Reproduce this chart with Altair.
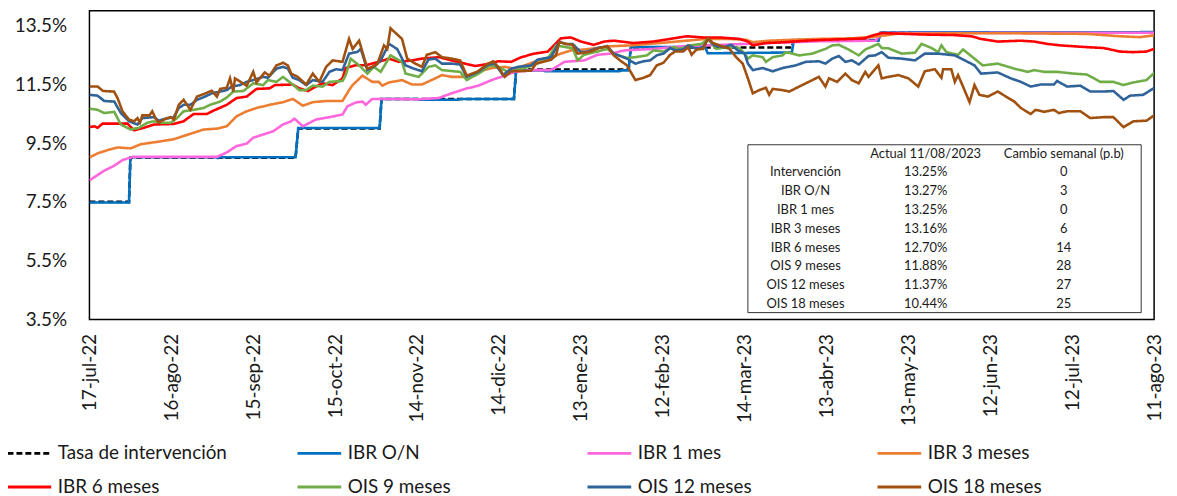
import altair as alt
import pandas as pd

START = pd.Timestamp("2022-07-17")
END_DATE = "2023-08-11"

series_names = ["Tasa de intervención", "IBR O/N", "IBR 1 mes", "IBR 3 meses",
                "IBR 6 meses", "OIS 9 meses", "OIS 12 meses", "OIS 18 meses"]
series_colors = ["#000000", "#0070C0", "#FF66DD", "#ED7D31",
                 "#FF0000", "#70AD47", "#2F6399", "#A0500F"]

# day offsets from 17-jul-22 and rates (%)
tasa_days = [0, 14.5, 15, 75.5, 76.5, 106.3, 107, 155.5, 156.3, 197.5, 198.3, 257.3, 258, 289, 289.8, 390]
tasa_vals = [7.5, 7.5, 9.0, 9.0, 10.0, 10.0, 11.0, 11.0, 12.0, 12.0, 12.75, 12.75, 13.0, 13.0, 13.25, 13.25]

on_days = [0, 14.5, 15, 46, 47, 48, 75.5, 76.5, 106.3, 107, 120, 121, 135, 136, 155.5, 156.3,
           166, 167, 194, 195, 197.5, 198.3, 225.5, 226.5, 257.3, 258, 289, 289.8, 390]
on_vals = [7.48, 7.48, 9.02, 9.02, 8.99, 9.02, 9.02, 10.01, 10.01, 11.0, 11.0, 10.97, 10.97, 11.0, 11.0, 11.97,
           11.97, 11.94, 11.94, 11.97, 11.97, 12.76, 12.76, 12.55, 12.58, 12.98, 12.98, 13.26, 13.27]

ibr1_days = [0, 1.8, 5.4, 9.1, 12.1, 15.8, 46.7, 50.3, 53.9, 57.6, 60, 63.6, 67.3, 70.9, 73.9, 75.1, 78.2,
             83, 87.9, 92.7, 94.5, 97.6, 100, 101.2, 103.6, 120.6, 127.9, 132.7, 137.6, 142.4, 147.3,
             152.1, 155.8, 163, 169.1, 174, 181.2, 186.1, 190.9, 196, 206.6, 218.7, 229.6, 243, 257.5,
             267.2, 279.3, 288, 290.2, 390]
ibr1_vals = [8.23, 8.34, 8.56, 8.73, 8.92, 9.03, 9.03, 9.18, 9.40, 9.48, 9.68, 9.79, 9.90, 10.13, 10.24, 10.33, 10.07,
             10.30, 10.38, 10.47, 10.75, 10.88, 10.91, 10.80, 11.0, 10.99, 11.03, 11.19, 11.34, 11.45, 11.64,
             11.79, 11.92, 11.98, 11.98, 12.26, 12.31, 12.50, 12.54, 12.65, 12.70, 12.80, 12.83, 12.88, 12.93,
             12.96, 12.97, 12.98, 13.24, 13.25]

ibr3_days = [0, 3, 6.7, 10.3, 15.1, 18.8, 24.8, 30.9, 34.5, 38.2, 41.8, 46.7, 50.3, 53.9, 57.6, 61.2, 66,
             70.9, 74.5, 78.2, 81.8, 86.7, 92.7, 95.1, 96.4, 100, 103.6, 106, 107.3, 109.7, 114.5, 118.2,
             121.8, 126.7, 129.1, 132.7, 137.6, 142.4, 147.3, 152.1, 155.8, 159.4, 163, 169.1, 172.7,
             176.4, 181.2, 186.1, 190.9, 198.2, 209, 218.7, 226, 234.5, 240.6, 243, 249, 257.5, 267.2,
             279.3, 289, 296.3, 317, 341.2, 365.4, 377.5, 384.8, 390]
ibr3_vals = [9.01, 9.15, 9.26, 9.35, 9.32, 9.46, 9.54, 9.63, 9.74, 9.85, 9.96, 9.99, 10.07, 10.41, 10.58, 10.69, 10.80,
             10.89, 11.00, 10.77, 10.89, 10.93, 10.93, 11.30, 11.47, 11.79, 11.58, 11.58, 11.45, 11.56, 11.64, 11.49,
             11.49, 11.70, 11.81, 11.75, 11.75, 11.92, 12.05, 12.09, 12.03, 12.14, 12.26, 12.42, 12.54,
             12.65, 12.68, 12.73, 12.79, 12.82, 12.90, 12.98, 13.04, 13.04, 13.01, 12.93, 12.98, 13.01, 13.04,
             13.06, 13.13, 13.22, 13.23, 13.23, 13.21, 13.13, 13.10, 13.16]

ibr6_days = [0, 1.8, 3, 4.8, 13.9, 16.4, 20, 23.6, 30.9, 34.5, 38.2, 43, 45.4, 50.3, 53.9, 57.6, 61.2, 66,
             67.9, 74.5, 76.9, 80, 83, 85.4, 89.1, 92.7, 93.9, 97.6, 101.2, 106, 109.7, 113.3, 118.2, 121.8,
             127.9, 132.7, 137.6, 141.2, 144.8, 149.7, 154.5, 158.2, 163, 167.9, 172.7, 176.4, 180, 184.8,
             188.5, 192.1, 199.3, 206.6, 212.7, 218.7, 224.8, 230.9, 238.1, 241.2, 243, 247.8, 255.1, 262.4,
             269.6, 279.3, 284.2, 286.6, 290.2, 304.8, 317, 323, 326.6, 332.7, 341.2, 346, 350.9, 355.7,
             365.4, 371.5, 377.5, 382.4, 387.2, 390]
ibr6_vals = [10.04, 10.07, 10.02, 10.16, 10.16, 9.93, 10.02, 10.13, 10.15, 10.24, 10.49, 10.49, 10.60, 10.80, 11.03, 11.08, 11.34, 11.36,
             11.47, 11.49, 11.36, 11.27, 11.42, 11.53, 11.47, 11.70, 12.05, 12.15, 12.14, 12.26, 12.37, 12.26, 12.31, 12.37,
             12.42, 12.31, 12.20, 12.12, 12.17, 12.28, 12.26, 12.42, 12.54, 12.61, 13.06, 13.09, 12.95, 12.84,
             12.95, 12.98, 12.90, 12.95, 13.04, 13.13, 13.09, 13.09, 13.04, 12.95, 12.82, 12.90, 12.93, 12.98,
             13.01, 13.04, 13.06, 13.15, 13.24, 13.19, 13.17, 13.13, 13.04, 12.95, 12.98, 12.95, 12.87, 12.82,
             12.76, 12.73, 12.61, 12.59, 12.61, 12.70]

ois9_days = [0, 3, 5.4, 9.1, 11.5, 15.1, 18.2, 21.2, 23.6, 26, 29.7, 32.1, 34.5, 38.2, 41.8, 44.2, 47.9, 50.3,
             52.7, 56.4, 60, 63.6, 65.4, 68.5, 70.9, 73.9, 76.9, 79.4, 81.8, 85.4, 87.9, 92.7, 93.9, 95.7,
             98.8, 101.8, 104.2, 106.7, 110.3, 114.5, 115.8, 120.6, 124.2, 126.7, 129.1, 135.8, 138.2, 143.6,
             146.7, 149.7, 153.3, 157, 162.4, 167.9, 170.9, 174.5, 177, 178.8, 181.2, 186.1, 189.7, 192.1,
             196.9, 200, 204.2, 206.6, 210.3, 213.9, 216.3, 220, 224.2, 226.6, 229.6, 234.5, 238.1, 240,
             241.2, 243, 246.6, 247.8, 250.3, 253.9, 255.1, 260, 264.8, 269.6, 272.1, 274.5, 278.1, 281.8,
             284.2, 289, 290.2, 292.7, 297.5, 302.4, 304.8, 308.5, 310.9, 312.1, 313.9, 318.2, 320, 324.2,
             327.2, 332.7, 338.8, 343.6, 346, 349.7, 354.5, 360.6, 365.4, 370.3, 375.1, 378.8, 382.4, 387.2, 390]
ois9_vals = [10.67, 10.63, 10.52, 10.56, 10.13, 9.96, 10.02, 10.19, 10.24, 10.19, 10.19, 10.35, 10.58, 10.63, 10.69, 10.80, 10.91, 11.05,
             11.25, 11.27, 11.53, 11.47, 11.64, 11.58, 11.75, 11.53, 11.30, 11.30, 11.45, 11.42, 11.58, 11.61, 11.81, 12.37,
             12.14, 11.86, 12.09, 11.92, 12.48, 12.26, 11.86, 11.75, 12.09, 12.14, 11.98, 11.92, 11.64, 11.92,
             12.14, 12.09, 11.92, 11.98, 12.14, 12.37, 12.82, 12.76, 12.73, 12.31, 12.50, 12.61, 12.70, 12.54,
             12.39, 12.42, 12.48, 12.65, 12.61, 12.76, 12.70, 12.82, 12.87, 13.04, 12.70, 12.78, 12.73, 12.54,
             12.37, 12.48, 12.42, 12.26, 12.42, 12.48, 12.59, 12.48, 12.54, 12.70, 12.82, 12.84, 12.68, 12.48,
             12.68, 12.87, 12.73, 12.72, 12.54, 12.57, 12.87, 12.73, 12.59, 12.82, 12.59, 12.50, 12.68, 12.37,
             12.14, 12.20, 12.03, 11.92, 11.98, 11.92, 11.92, 11.86, 11.83, 11.58, 11.58, 11.47, 11.56, 11.64, 11.88]

ois12_days = [0, 3, 5.4, 9.1, 11.5, 14.5, 17.6, 19.4, 23.6, 25.4, 27.9, 30.9, 32.7, 34.5, 37, 39.4, 42.4, 44.8,
              47.9, 50.3, 52.1, 55.1, 57.6, 60, 63.6, 65.4, 68.5, 70.9, 72.7, 74.5, 76.9, 79.4, 81.8, 85.4,
              87.9, 90.3, 92.7, 95.1, 98.2, 99.4, 101.8, 104.8, 106.7, 109.7, 112.7, 115.8, 118.8, 121.8,
              124.2, 126.7, 129.1, 132.7, 135.8, 138.2, 142.4, 146.1, 148.5, 151.5, 154.5, 157, 161.8, 164.2,
              169.1, 172.1, 174.5, 177, 180, 182.4, 186.1, 189.7, 192.1, 196.9, 200, 203, 205.4, 207.8, 210.3,
              212.7, 214.5, 217.5, 219.3, 222.4, 224.8, 226.6, 229, 232.1, 235.1, 237.5, 240, 241.2, 243, 246.6,
              250.3, 253.9, 258.7, 262.4, 267.2, 269.6, 272.1, 274.5, 276.9, 279.3, 281.8, 285.4, 287.8, 290.2,
              292.7, 297.5, 302.4, 306, 310.9, 317, 319.4, 324.2, 326.6, 332.7, 337.5, 341.2, 344.8, 348.5,
              353.3, 354.5, 358.1, 363, 366.6, 371.5, 375.1, 378.8, 381.2, 386, 390]
ois12_vals = [11.14, 11.11, 10.93, 10.91, 10.52, 10.24, 10.13, 10.35, 10.38, 10.26, 10.33, 10.38, 10.69, 10.80, 10.80, 10.97, 11.08, 11.19,
              11.25, 11.30, 11.42, 11.47, 11.58, 11.64, 11.75, 11.72, 12.03, 12.09, 12.03, 11.72, 11.64, 11.47, 11.64, 11.58,
              11.92, 12.01, 11.98, 12.54, 12.60, 12.70, 11.98, 12.14, 12.31, 12.87, 12.70, 12.14, 12.03, 11.94,
              12.34, 12.37, 12.20, 12.20, 12.17, 11.75, 11.92, 12.17, 12.20, 11.81, 12.03, 12.09, 12.14, 12.34,
              12.42, 12.93, 12.87, 12.87, 12.59, 12.61, 12.73, 12.79, 12.54, 12.37, 12.20, 12.28, 12.31, 12.48, 12.54,
              12.73, 12.65, 12.68, 12.82, 12.70, 12.76, 13.04, 12.82, 12.76, 12.84, 12.65, 12.54, 12.20, 11.98, 12.05,
              11.94, 12.05, 12.14, 12.26, 12.28, 12.20, 12.37, 12.46, 12.26, 12.31, 12.17, 12.46, 12.48, 12.59,
              12.40, 12.37, 12.31, 12.54, 12.54, 12.48, 12.37, 12.14, 11.86, 11.90, 11.70, 11.58, 11.42, 11.49,
              11.49, 11.61, 11.42, 11.45, 11.25, 11.25, 11.27, 10.97, 11.11, 11.14, 11.37]

ois18_days = [0, 3, 5, 9, 10.3, 12.1, 14.5, 16.4, 17.6, 18.5, 19.4, 22, 23, 24.2, 25.4, 28, 29.7, 31, 32.7,
              34.5, 37, 39.4, 42, 44.8, 46.7, 47.9, 50.3, 51.5, 52.7, 53.3, 55.7, 57.6, 60, 61.2, 64.2, 66,
              68.5, 70.9, 72.7, 73.9, 76.3, 79.4, 81.8, 84.2, 86.7, 89.1, 92.7, 95.1, 96.4, 98.8, 101.8, 103.6,
              105.5, 107.9, 109.1, 110.3, 114.5, 116.4, 119.4, 121.8, 123.6, 126.7, 129.1, 132.7, 135.8, 138.2,
              142.4, 145.5, 147.9, 149.7, 152.1, 154.5, 161.8, 163.6, 169.1, 170.9, 172.1, 174.5, 177, 178.8,
              181.2, 183.6, 186.7, 189.7, 192.1, 194.5, 196.9, 200, 203, 205.4, 207.8, 210.3, 212.7, 214.5,
              217.5, 219.3, 220.6, 222.4, 224.8, 226.6, 228.4, 230.9, 234.5, 236.9, 239.3, 241.2, 243, 245.4,
              247.8, 249, 250.3, 253.9, 256.3, 260, 262.4, 267.2, 269.6, 270.9, 273.9, 276.9, 279.3, 281.8,
              284.2, 285.4, 289, 290.2, 292.7, 296.3, 300, 303.6, 306, 309.7, 312.1, 312.7, 315.7, 317, 318.2,
              320, 322.4, 324.2, 326, 329.1, 332.7, 338.8, 341.2, 344.8, 346.6, 349.7, 353.3, 355.1, 358.1,
              363, 366.6, 371.5, 375.1, 378.8, 382.4, 387.2, 390]
ois18_vals = [11.42, 11.42, 11.27, 11.25, 11.03, 10.58, 10.30, 10.24, 10.35, 10.19, 10.44, 10.44, 10.58, 10.35, 10.19, 10.33, 10.38, 10.30, 10.80,
              10.97, 10.63, 11.08, 11.17, 11.28, 11.08, 11.34, 11.38, 11.70, 11.25, 11.70, 11.56, 11.45, 11.92, 11.56, 11.90, 11.79,
              12.14, 12.23, 12.14, 11.86, 11.75, 11.49, 11.86, 11.58, 12.09, 12.31, 12.26, 13.04, 12.70, 12.98, 12.03, 12.09,
              12.20, 12.82, 12.70, 13.40, 13.04, 12.37, 12.20, 12.09, 12.50, 12.59, 12.42, 12.37, 12.31, 11.79,
              11.94, 12.17, 12.28, 12.09, 11.75, 11.94, 11.96, 12.20, 12.33, 12.48, 12.93, 12.87, 12.84, 12.54,
              12.57, 12.61, 12.73, 12.79, 12.48, 12.30, 12.14, 11.64, 11.72, 11.81, 12.14, 12.23, 12.50, 12.61,
              12.61, 12.76, 12.50, 12.68, 12.70, 13.06, 12.90, 12.82, 12.70, 12.42, 12.20, 11.70, 11.19, 11.30,
              11.38, 11.14, 11.34, 11.30, 11.25, 11.42, 11.53, 11.75, 11.42, 11.70, 11.58, 11.86, 11.64, 11.53,
              11.92, 11.75, 12.14, 11.70, 11.75, 11.81, 11.70, 11.42, 11.94, 12.01, 11.72, 12.01, 12.01, 11.58, 11.81,
              11.42, 10.89, 11.47, 11.14, 11.08, 11.25, 10.91, 10.69, 10.49, 10.63, 10.56, 10.63, 10.52, 10.58,
              10.58, 10.35, 10.38, 10.38, 10.04, 10.24, 10.26, 10.44]

tick_dates = ["2022-07-17", "2022-08-16", "2022-09-15", "2022-10-15", "2022-11-14", "2022-12-14",
              "2023-01-13", "2023-02-12", "2023-03-14", "2023-04-13", "2023-05-13", "2023-06-12",
              "2023-07-12", "2023-08-11"]
month_abbr = ["ene", "feb", "mar", "abr", "may", "jun", "jul", "ago", "sep", "oct", "nov", "dic"]
y_ticks = [3.5, 5.5, 7.5, 9.5, 11.5, 13.5]

tab_names = ["Intervención", "IBR O/N", "IBR 1 mes", "IBR 3 meses", "IBR 6 meses",
             "OIS 9 meses", "OIS 12 meses", "OIS 18 meses"]
tab_actual = ["13.25%", "13.27%", "13.25%", "13.16%", "12.70%", "11.88%", "11.37%", "10.44%"]
tab_change = ["0", "3", "0", "6", "14", "28", "27", "25"]
tab_headers = ["Actual 11/08/2023", "Cambio semanal (p.b)"]

# ---------------- build tables ----------------
all_days = [tasa_days, on_days, ibr1_days, ibr3_days, ibr6_days, ois9_days, ois12_days, ois18_days]
all_vals = [tasa_vals, on_vals, ibr1_vals, ibr3_vals, ibr6_vals, ois9_vals, ois12_vals, ois18_vals]
rows = []
for k, (name, dd, vv) in enumerate(zip(series_names, all_days, all_vals)):
    assert len(dd) == len(vv), name
    for d, v in zip(dd, vv):
        rows.append({"date": START + pd.Timedelta(days=d), "value": v, "series": name, "z": k})
df = pd.DataFrame(rows)


def dt(s):
    t = pd.Timestamp(s)
    return alt.DateTime(year=t.year, month=t.month, date=t.day)


FONT = "Lato"
TXT = "#1a1a1a"
months_js = "[" + ",".join("'%s'" % m for m in month_abbr) + "]"
x_label_expr = ("date(datum.value) + '-' + " + months_js +
                "[month(datum.value)] + '-' + timeFormat(datum.value, '%y')")

dash_range = [[6, 3]] + [[1, 0]] * 7

lines = alt.Chart(df).mark_line(strokeWidth=2.6, clip=True).encode(
    x=alt.X("date:T",
            scale=alt.Scale(domain=[dt(tick_dates[0]), dt(END_DATE)]),
            axis=alt.Axis(values=[dt(s) for s in tick_dates], labelExpr=x_label_expr,
                          labelAngle=270, labelFont=FONT, labelFontSize=19, labelColor=TXT,
                          labelPadding=14, ticks=False, domain=False, grid=False, title=None,
                          labelOverlap=False)),
    y=alt.Y("value:Q",
            scale=alt.Scale(domain=[3.5, 14], nice=False, zero=False),
            axis=alt.Axis(values=y_ticks, labelExpr="format(datum.value, '.1f') + '%'",
                          labelFont=FONT, labelFontSize=19, labelColor=TXT, labelPadding=23,
                          ticks=False, domain=False, grid=False, title=None)),
    color=alt.Color("series:N", title=None,
                    scale=alt.Scale(domain=series_names, range=series_colors)),
    strokeDash=alt.StrokeDash("series:N", title=None,
                              scale=alt.Scale(domain=series_names, range=dash_range)),
    detail="z:O",
)

# table
ROW0 = 144
ROW_H = 18.9
tab_df = pd.DataFrame({
    "row": list(range(0, 9)),
    "name": [""] + tab_names,
    "actual": [tab_headers[0]] + tab_actual,
    "change": [tab_headers[1]] + tab_change,
})
box = alt.Chart(pd.DataFrame({"k": [0]})).mark_rect(
    fill="white", stroke="#333333", strokeWidth=1
).encode(x=alt.value(663), x2=alt.value(1059), y=alt.value(135), y2=alt.value(304))

tbase = alt.Chart(tab_df).transform_calculate(py=f"{ROW0} + datum.row * {ROW_H}")
tmark = dict(font=FONT, fontSize=13, color=TXT, align="center", baseline="middle")
t_name = tbase.mark_text(**tmark).encode(
    x=alt.value(721), y=alt.Y("py:Q", scale=None, axis=None), text="name:N")
t_act = tbase.mark_text(**tmark).encode(
    x=alt.value(842), y=alt.Y("py:Q", scale=None, axis=None), text="actual:N")
t_chg = tbase.mark_text(**tmark).encode(
    x=alt.value(981), y=alt.Y("py:Q", scale=None, axis=None), text="change:N")

chart = alt.layer(lines, box, t_name, t_act, t_chg).properties(
    width=1072, height=311,
    autosize=alt.AutoSizeParams(type="none"),
    padding={"left": 82, "top": 1, "right": 15, "bottom": 180},
).configure_view(
    stroke="#000000", strokeWidth=1.5
).configure_legend(
    orient="none", legendX=-84, legendY=422, columns=4, direction="horizontal",
    gridAlign="all", columnPadding=64, rowPadding=-11, symbolType="stroke", symbolSize=1936,
    symbolStrokeWidth=3, labelFont=FONT, labelFontSize=19, labelColor=TXT,
    labelOffset=5, labelLimit=400,
)

chart.save("out.html", embed_options={"renderer": "svg", "actions": False})
